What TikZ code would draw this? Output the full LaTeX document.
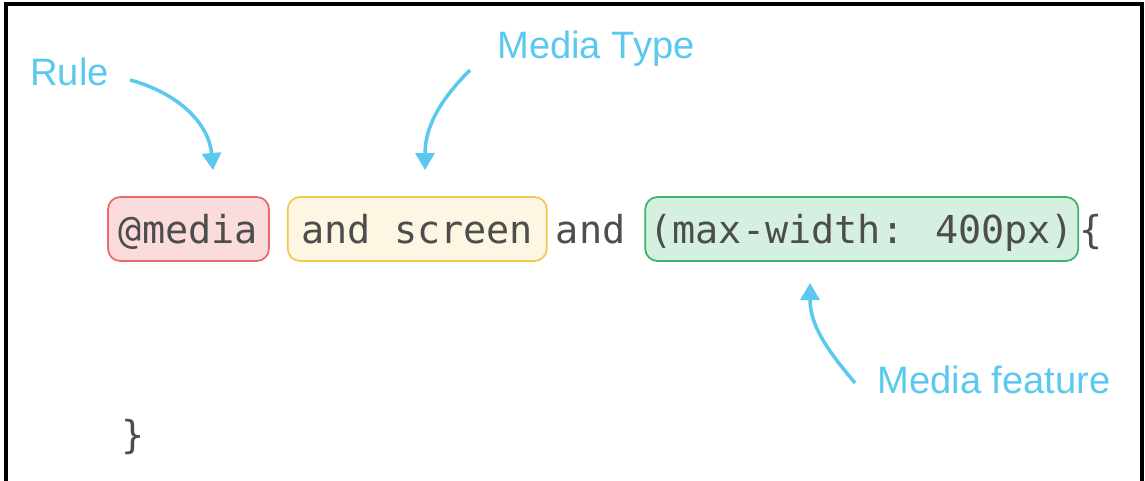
\documentclass[tikz,border=0pt]{standalone}
\usepackage{fontspec}
\setmainfont{Liberation Sans}
\newfontfamily\codefont{DejaVu Sans Mono}
\usepackage{xcolor}
\usetikzlibrary{positioning, arrows.meta}
\definecolor{notecyan}{RGB}{91, 200, 240}
\definecolor{codegray}{RGB}{77, 77, 77}
\definecolor{rulered}{RGB}{232, 106, 106}
\definecolor{rulefill}{RGB}{250, 220, 220}
\definecolor{typeyellow}{RGB}{242, 200, 80}
\definecolor{typefill}{RGB}{253, 246, 226}
\definecolor{featgreen}{RGB}{60, 180, 105}
\definecolor{featfill}{RGB}{213, 239, 225}

\begin{document}
\begin{tikzpicture}[
    codetext/.style={inner sep=0pt, text height=0.92cm, text depth=0.36cm, text=codegray, font=\codefont\fontsize{21.9}{26}\selectfont},
    codebox/.style={codetext, draw, line width=1pt, rounded corners=7pt},
    note/.style={inner sep=0pt, anchor=base west, text=notecyan, font=\fontsize{21.7}{26}\selectfont},
    pointer/.style={line width=2pt, draw=notecyan, -{Triangle[length=0.34cm, width=0.38cm]}}]

    \useasboundingbox (0,0) rectangle (22.9,9.6);
    \draw[line width=2.2pt] (0.12,-0.1) -- (0.12,9.52) -- (22.84,9.52) -- (22.84,-0.1);

    % Code line
    \node[codebox, draw=rulered, fill=rulefill, minimum width=3.22cm, anchor=base] (kw) at (3.77,4.74) {@media};
    \node[codebox, draw=typeyellow, fill=typefill, minimum width=5.18cm, right=0.34cm of kw] (mtype) {and screen};
    \node[codetext, right=0.16cm of mtype] (andword) {and};
    \node[codebox, draw=featgreen, fill=featfill, minimum width=8.66cm, right=0.37cm of andword] (feat) {(max-width: 400px)};
    \node[codetext, right=0cm of feat] (open) {\{};
    \node[codetext, anchor=base] (close) at (2.67,0.64) {\}};

    % Notes
    \node[note] (rulelbl) at (0.6,7.9) {Rule};
    \node[note] (typelbl) at (9.94,8.44) {Media Type};
    \node[note] (featlbl) at (17.54,1.74) {Media feature};

    \coordinate (ruletail) at (2.6,8.0);
    \coordinate (ruletip) at (4.26,6.2);
    \coordinate (typetail) at (9.4,8.2);
    \coordinate (typetip) at (8.5,6.2);
    \coordinate (feattail) at (17.1,1.94);
    \coordinate (feattip) at (16.2,3.94);

    % Pointers
    \draw[pointer] (ruletail) to[out=-15, in=95] (ruletip);
    \draw[pointer] (typetail) to[out=-135, in=90] (typetip);
    \draw[pointer] (feattail) to[out=130, in=-90] (feattip);
\end{tikzpicture}
\end{document}
